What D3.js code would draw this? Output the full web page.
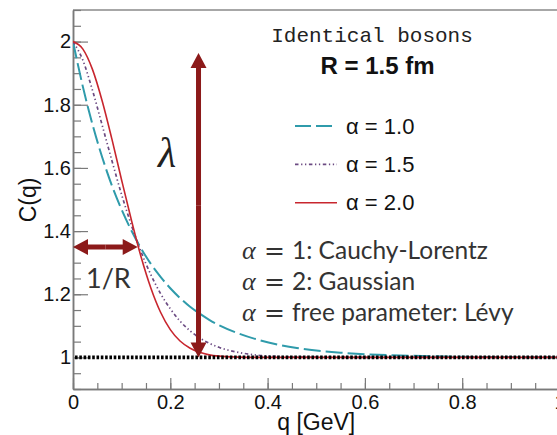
<!DOCTYPE html>
<html>
<head>
<meta charset="utf-8">
<script src="https://cdn.jsdelivr.net/npm/d3@7"></script>
<style>
  html, body { margin: 0; padding: 0; background: #fff; }
  svg { display: block; }
</style>
</head>
<body>
<svg id="chart" width="557" height="435"></svg>
<script>
// Momentum difference q [GeV] sampled along the curves
const qValues = [0, 0.02, 0.04, 0.06, 0.08, 0.10, 0.12, 0.14, 0.16, 0.18, 0.20, 0.22, 0.24, 0.26, 0.28, 0.30, 0.34, 0.38, 0.42, 0.46, 0.50, 0.55, 0.60, 0.65, 0.70, 0.80, 0.90, 1.00];
// Correlation function C(q) for each stability index
const cAlpha10 = [2.000, 1.859, 1.738, 1.634, 1.544, 1.468, 1.402, 1.345, 1.296, 1.255, 1.219, 1.188, 1.161, 1.139, 1.119, 1.102, 1.076, 1.056, 1.041, 1.030, 1.022, 1.015, 1.010, 1.007, 1.005, 1.002, 1.001, 1.000];
const cAlpha15 = [2.000, 1.942, 1.846, 1.735, 1.623, 1.515, 1.419, 1.334, 1.262, 1.202, 1.154, 1.115, 1.085, 1.062, 1.045, 1.032, 1.016, 1.007, 1.003, 1.001, 1.001, 1.000, 1.000, 1.000, 1.000, 1.000, 1.000, 1.000];
const cAlpha20 = [2.000, 1.977, 1.912, 1.812, 1.691, 1.561, 1.435, 1.318, 1.220, 1.143, 1.088, 1.052, 1.030, 1.016, 1.008, 1.004, 1.001, 1.000, 1.000, 1.000, 1.000, 1.000, 1.000, 1.000, 1.000, 1.000, 1.000, 1.000];
const seriesNames = ["\u03b1 = 1.0", "\u03b1 = 1.5", "\u03b1 = 2.0"];

// Axis ticks
const xMajorTicks = [0, 0.2, 0.4, 0.6, 0.8, 1.0];
const xTickLabels = ["0", "0.2", "0.4", "0.6", "0.8", "1"];
const yMajorTicks = [1.0, 1.2, 1.4, 1.6, 1.8, 2.0];
const yTickLabels = ["1", "1.2", "1.4", "1.6", "1.8", "2"];
const xMinorTicks = d3.range(0, 21).map(i => i * 0.05);
const yMinorTicks = d3.range(0, 25).map(i => 0.9 + i * 0.05);

// Annotation anchors (data units)
const lambdaArrow = { q: 0.258, from: 1.0, to: 1.964 };
const radiusArrow = { c: 1.35, from: 0, to: 0.133 };

// Parametrisation notes: value after "α =" and description
const noteValues = ["1: ", "2: ", ""];
const noteTexts = ["Cauchy-Lorentz", "Gaussian", "free parameter: L\u00e9vy"];

const svg = d3.select("#chart");
const x = d3.scaleLinear().domain([0, 1]).range([73, 559.5]);
const y = d3.scaleLinear().domain([0.9, 2.1]).range([389, 10]);

const axisColor = "#7a7a7a";
const arrowColor = "#8c1a1a";

svg.append("defs").append("clipPath").attr("id", "plotClip")
  .append("rect").attr("x", x(0)).attr("y", y(2.1))
  .attr("width", x(1) - x(0)).attr("height", y(0.9) - y(2.1));

// Frame
svg.append("line").attr("x1", x(0)).attr("x2", x(1)).attr("y1", y(2.1)).attr("y2", y(2.1))
  .attr("stroke", "#8a8a8a").attr("stroke-width", 1.5);
svg.append("line").attr("x1", x(1)).attr("x2", x(1)).attr("y1", y(2.1)).attr("y2", y(0.9))
  .attr("stroke", "#8a8a8a").attr("stroke-width", 1.5);

// Y axis: major ticks with labels, minor ticks without
const yAxisMajor = d3.axisLeft(y).tickValues(yMajorTicks)
  .tickFormat((d, i) => yTickLabels[i]).tickSizeInner(-15).tickSizeOuter(0).tickPadding(2);
const yAxisMinor = d3.axisLeft(y).tickValues(yMinorTicks).tickFormat("")
  .tickSizeInner(-8).tickSizeOuter(0);
svg.append("g").attr("transform", `translate(${x(0)},0)`).call(yAxisMajor);
svg.append("g").attr("transform", `translate(${x(0)},0)`).call(yAxisMinor);

const xAxisMajor = d3.axisBottom(x).tickValues(xMajorTicks)
  .tickFormat((d, i) => xTickLabels[i]).tickSizeInner(-11).tickSizeOuter(0).tickPadding(6);
const xAxisMinor = d3.axisBottom(x).tickValues(xMinorTicks).tickFormat("")
  .tickSizeInner(-6).tickSizeOuter(0);
svg.append("g").attr("transform", `translate(0,${y(0.9)})`).call(xAxisMajor);
svg.append("g").attr("transform", `translate(0,${y(0.9)})`).call(xAxisMinor);

svg.selectAll(".domain").attr("stroke", axisColor).attr("stroke-width", 1.5);
svg.selectAll(".tick line").attr("stroke", axisColor).attr("stroke-width", 1.2);
svg.selectAll(".tick text").attr("font-family", "'Liberation Sans', Arial, sans-serif")
  .attr("font-size", 20).attr("fill", "#111");

// Axis titles
svg.append("text").attr("x", (x(0) + x(1)) / 2).attr("y", 430)
  .attr("text-anchor", "middle").attr("font-family", "'Liberation Sans', Arial, sans-serif")
  .attr("font-size", 23).attr("fill", "#111").text("q [GeV]");
svg.append("text").attr("transform", "translate(36,200) rotate(-90)")
  .attr("text-anchor", "middle").attr("font-family", "'Liberation Sans', Arial, sans-serif")
  .attr("font-size", 23).attr("fill", "#111").text("C(q)");

// Curves
const series = [
  { name: seriesNames[0], values: cAlpha10, color: "#2f9bab", dash: "17,5", width: 2 },
  { name: seriesNames[1], values: cAlpha15, color: "#6b4a82", dash: "3.5,2.6,1.3,2.6,1.3,2.6", width: 1.7 },
  { name: seriesNames[2], values: cAlpha20, color: "#c8262e", dash: null, width: 1.6 }
];
const line = d3.line().x(d => x(d[0])).y(d => y(d[1])).curve(d3.curveMonotoneX);
const plot = svg.append("g").attr("clip-path", "url(#plotClip)");
series.forEach(s => {
  plot.append("path").datum(qValues.map((q, i) => [q, s.values[i]]))
    .attr("d", line).attr("fill", "none").attr("stroke", s.color)
    .attr("stroke-width", s.width).attr("stroke-dasharray", s.dash);
});

// Baseline C = 1
plot.append("line").attr("x1", x(0) + 2).attr("x2", x(1)).attr("y1", y(1)).attr("y2", y(1))
  .attr("stroke", "#000").attr("stroke-width", 3.6).attr("stroke-dasharray", "2.6,1.7");

// Arrows
function arrowPath(x1, y1, x2, y2, shaft, headLen, headW) {
  const dx = x2 - x1, dy = y2 - y1, len = Math.hypot(dx, dy);
  const ux = dx / len, uy = dy / len, nx = -uy, ny = ux;
  const bx = x2 - ux * headLen, by = y2 - uy * headLen;
  return [
    [x1 + nx * shaft / 2, y1 + ny * shaft / 2],
    [bx + nx * shaft / 2, by + ny * shaft / 2],
    [bx + nx * headW / 2, by + ny * headW / 2],
    [x2, y2],
    [bx - nx * headW / 2, by - ny * headW / 2],
    [bx - nx * shaft / 2, by - ny * shaft / 2],
    [x1 - nx * shaft / 2, y1 - ny * shaft / 2]
  ];
}
function drawDoubleArrow(x1, y1, x2, y2) {
  const shaft = 5, headLen = 15, headW = 16;
  const mx = (x1 + x2) / 2, my = (y1 + y2) / 2;
  [[mx, my, x2, y2], [mx, my, x1, y1]].forEach(a => {
    svg.append("polygon")
      .attr("points", arrowPath(a[0], a[1], a[2], a[3], shaft, headLen, headW).join(" "))
      .attr("fill", arrowColor);
  });
}
drawDoubleArrow(x(lambdaArrow.q), y(lambdaArrow.from), x(lambdaArrow.q), y(lambdaArrow.to));
drawDoubleArrow(x(radiusArrow.from), y(radiusArrow.c), x(radiusArrow.to), y(radiusArrow.c));

// Annotation labels
svg.append("text").attr("x", 158).attr("y", 167)
  .attr("font-family", "'Liberation Serif', 'DejaVu Serif', serif").attr("font-style", "italic")
  .attr("font-size", 42).attr("fill", "#222").text("\u03bb");
svg.append("text").attr("x", 86).attr("y", 288)
  .attr("font-family", "Lato, 'Open Sans', sans-serif").attr("font-size", 27)
  .attr("fill", "#333").text("1/R");

// Header
svg.append("text").attr("x", 372).attr("y", 41.5).attr("text-anchor", "middle")
  .attr("font-family", "'Liberation Mono', 'DejaVu Sans Mono', monospace")
  .attr("font-size", 21).attr("fill", "#222").text("Identical bosons");
svg.append("text").attr("x", 377.5).attr("y", 73.5).attr("text-anchor", "middle")
  .attr("font-family", "'Liberation Sans', Arial, sans-serif").attr("font-weight", "bold")
  .attr("font-size", 24).attr("fill", "#111").text("R = 1.5 fm");

// Legend
const legendRows = [126, 164.3, 202.7];
series.forEach((s, i) => {
  svg.append("line").attr("x1", 295).attr("x2", 337).attr("y1", legendRows[i]).attr("y2", legendRows[i])
    .attr("stroke", s.color).attr("stroke-width", s.width)
    .attr("stroke-dasharray", i === 0 ? "16,5" : s.dash);
  svg.append("text").attr("x", 346).attr("y", legendRows[i] + 7.5)
    .attr("font-family", "'Liberation Sans', Arial, sans-serif").attr("font-size", 22)
    .attr("fill", "#111").text(s.name);
});

// Parametrisation notes
noteTexts.forEach((desc, i) => {
  const t = svg.append("text").attr("y", 258.5 + i * 31).attr("fill", "#333");
  t.append("tspan").attr("x", 242)
    .attr("font-family", "'Liberation Serif', 'DejaVu Serif', serif")
    .attr("font-style", "italic").attr("font-size", 26).text("\u03b1");
  t.append("tspan").attr("x", 264)
    .attr("font-family", "'DejaVu Sans', sans-serif").attr("font-size", 25).text("=");
  t.append("tspan").attr("x", 292)
    .attr("font-family", "Lato, 'Open Sans', sans-serif").attr("font-size", 24.5)
    .text(noteValues[i] + desc);
});
</script>
</body>
</html>
